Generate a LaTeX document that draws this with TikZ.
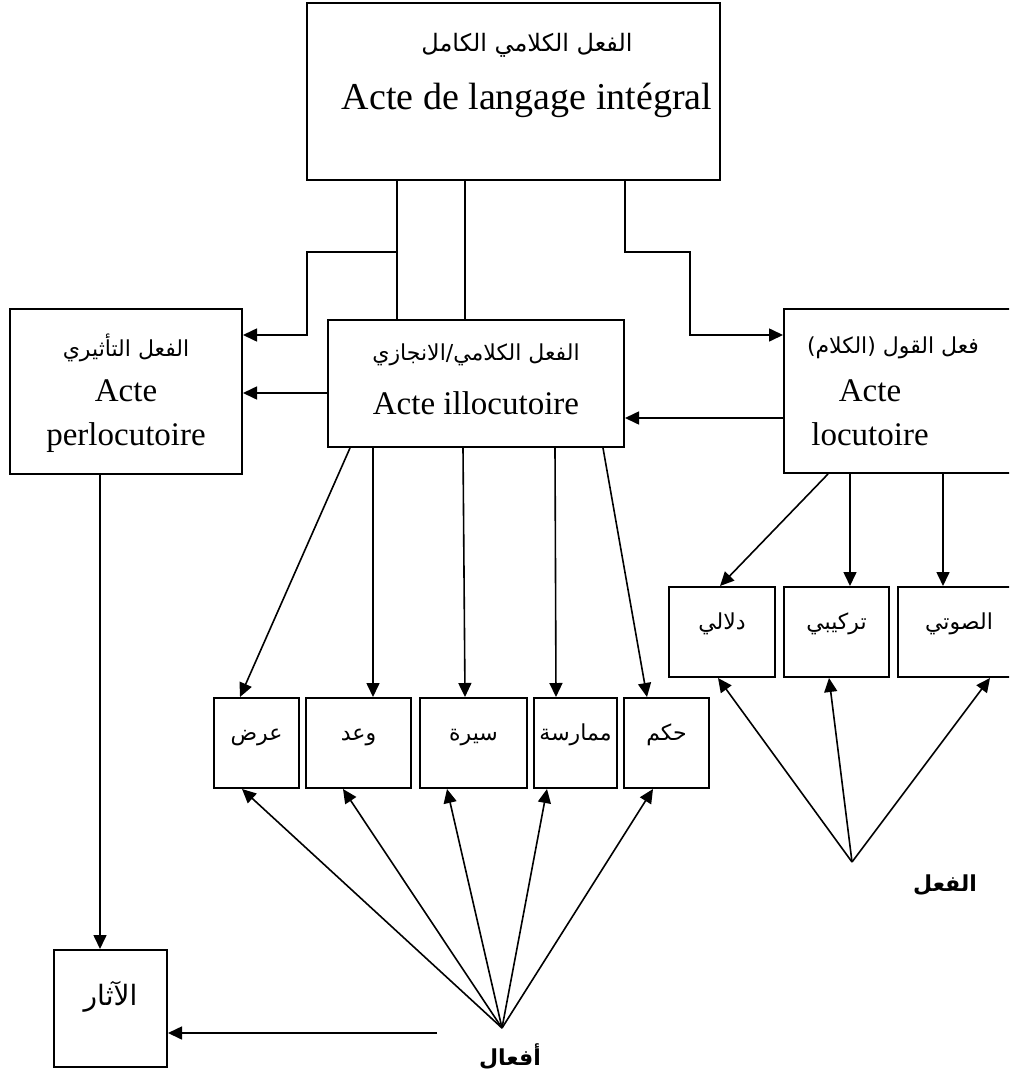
\documentclass[tikz,border=0pt]{standalone}
\usepackage{fontspec}
\setmainfont{Liberation Serif}
\newfontfamily\arabicfont[Script=Arabic]{DejaVu Sans}
\TeXXeTstate=1
\usetikzlibrary{arrows.meta,fit}
\newcommand\artext[1]{{\arabicfont\beginR #1\endR}}

\begin{document}
\begin{tikzpicture}[x=0.5pt,y=-0.5pt,
    box/.style={draw, line width=1pt, inner sep=0pt},
    ln/.style={line width=0.8pt},
    arr/.style={line width=0.8pt, -{Triangle[length=7pt,width=6.5pt]}},
    big/.style={font=\fontsize{19}{22}\selectfont},
    mid/.style={font=\fontsize{16.5}{19}\selectfont},
    ara/.style={font=\fontsize{11}{13}\selectfont}]
  \clip (0,0) rectangle (1009,1076);
  % main boxes
  \node[box, fit={(307,3) (720,180)}] (top) {};
  \node[box, fit={(10,309) (242,474)}] (perl) {};
  \node[box, fit={(328,320) (624,447)}] (illo) {};
  \node[box, fit={(784,309) (1020,473)}] (locu) {};
  \node[box, fit={(54,950) (167,1067)}, font=\fontsize{14}{16}\selectfont] (athar) {\artext{الآثار}};
  % texts
  \node[ara, font=\fontsize{12}{14}\selectfont] (topar) at (527,45) {\artext{الفعل الكلامي الكامل}};
  \node[big] (topfr) at (527,100) {Acte de langage intégral};
  \node[ara] (perlar) at (126,348) {\artext{الفعل التأثيري}};
  \node[mid] (perlfr) at (126,416) {\begin{tabular}{c}Acte\\[3pt]perlocutoire\end{tabular}};
  \node[ara] (illoar) at (476,355) {\artext{الفعل الكلامي/الانجازي}};
  \node[mid] (illofr) at (476,403) {Acte illocutoire};
  \node[ara] (locuar) at (893,348) {\artext{فعل القول (الكلام)}};
  \node[mid] (locufr) at (870,416) {\begin{tabular}{c}Acte\\[3pt]locutoire\end{tabular}};
  % small boxes
  \foreach \n/\a/\b/\t in {b1/214/299/عرض, b2/306/411/وعد, b3/420/527/سيرة,
      b4/534/617/ممارسة, b5/624/709/حكم}
    \node[box, ara, fit={(\a,698) (\b,788)}] (\n) {\artext{\t}};
  \foreach \n/\a/\b/\t in {r1/669/775/دلالي, r2/784/889/تركيبي, r3/898/1020/الصوتي}
    \node[box, ara, fit={(\a,587) (\b,677)}] (\n) {\artext{\t}};
  % top connectors
  \coordinate (k1) at (397,252);
  \coordinate (k3) at (307,335);
  \coordinate (k4) at (690,252);
  \coordinate (k5) at (690,335);
  \draw[ln] (top.south -| k1) -- (illo.north -| k1);
  \draw[ln] (top.south -| 465,0) -- (illo.north -| 465,0);
  \draw[arr] (k1) -| (k3) -- (perl.east |- k3);
  \draw[arr] (top.south -| 625,0) |- (k4) |- (locu.west |- k5);
  \draw[arr] (illo.west |- 0,393) -- (perl.east |- 0,393);
  \draw[arr] (locu.west |- 0,418) -- (illo.east |- 0,418);
  % down to the small boxes
  \foreach \b/\s/\e in {b1/350/240, b2/373/373, b3/463/465, b4/555/556, b5/603/647}
    \draw[arr] (illo.south -| \s,0) -- (\b.north -| \e,0);
  \foreach \b/\s/\e in {r1/828/720, r2/850/850, r3/943/943}
    \draw[arr] (locu.south -| \s,0) -- (\b.north -| \e,0);
  \draw[arr] (perl.south -| 100,0) -- (athar.north -| 100,0);
  % fans
  \coordinate (fa) at (502,1028);
  \foreach \b/\e in {b1/242, b2/343, b3/447, b4/547, b5/653}
    \draw[arr] (fa) -- (\b.south -| \e,0);
  \node[font=\fontsize{11}{13}\bfseries] (afal) at (510,1057) {\artext{أفعال}};
  \coordinate (q) at (437,1033);
  \draw[arr] (q) -- (athar.east |- q);
  \coordinate (fb) at (852,862);
  \foreach \b/\e in {r1/718, r2/829, r3/990}
    \draw[arr] (fb) -- (\b.south -| \e,0);
  \node[font=\fontsize{11}{13}\bfseries] (fil) at (945,885) {\artext{الفعل}};
\end{tikzpicture}
\end{document}
